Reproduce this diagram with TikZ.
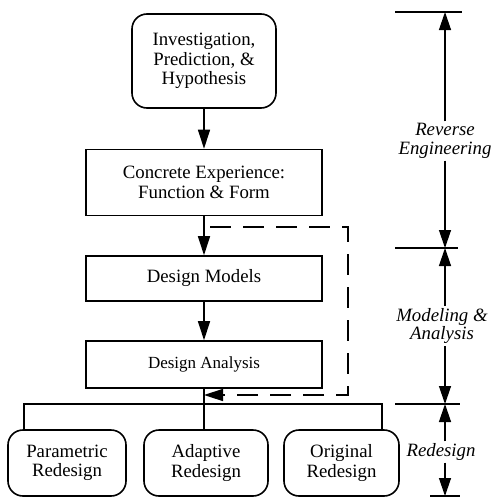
\documentclass[tikz,border=0pt]{standalone}
\usepackage{fontspec}
\setmainfont{Liberation Serif}
\usetikzlibrary{arrows.meta}
\tikzset{
  box/.style={draw, line width=1.6pt, align=center, inner sep=0pt,
    font=\fontsize{18.8}{19.5}\selectfont},
  rbox/.style={box, rounded corners=15pt},
  flow/.style={line width=1.5pt, -{Triangle[length=19pt,width=12pt]}},
  feedback/.style={flow, dash pattern=on 21pt off 12pt, dash phase=-6pt},
  link/.style={line width=1.5pt},
  tick/.style={line width=1.2pt},
  dimarrow/.style={line width=1.3pt, -{Triangle[length=18pt,width=12pt]}},
  phase/.style={font=\fontsize{18.8}{18.5}\selectfont\itshape, align=center, inner sep=2pt}
}
\begin{document}
\begin{tikzpicture}[x=1pt,y=-1pt]
        \useasboundingbox (0,0) rectangle (491,498);
        % main column
        \node[rbox, minimum width=144pt, minimum height=94pt] (inv) at (204,61) {Investigation,\\Prediction, \&\\Hypothesis};
        \node[box, minimum width=236pt, minimum height=66pt] (exp) at (204,182.5) {Concrete Experience:\\Function \& Form};
        \node[box, minimum width=236pt, minimum height=45pt] (models) at (204,278.5) {Design Models};
        \node[box, minimum width=236pt, minimum height=47pt, font=\fontsize{17}{19}\selectfont] (analysis) at (204,364.5) {Design Analysis};
        \draw[flow] (inv) -- (exp);
        \draw[flow] (exp) -- (models);
        \draw[flow] (models) -- (analysis);
        % feedback loop
        \coordinate (fbtop) at (204,227);
        \coordinate (fbend) at (204,395);
        \draw[feedback] (fbtop) -- (348,227) -- (348,395) -- (fbend);
        % redesign boxes
        \node[rbox, minimum width=118pt, minimum height=66pt] (param) at (67,463) {Parametric\\Redesign};
        \node[rbox, minimum width=124pt, minimum height=66pt] (adapt) at (206,463) {Adaptive\\Redesign};
        \node[rbox, minimum width=115pt, minimum height=66pt] (orig) at (341.5,463) {Original\\Redesign};
        \draw[link] (analysis.south) -- (analysis.south |- adapt.north);
        \draw[link] (24,0 |- param.north) -- (24,404) -- (382,404) -- (382,0 |- orig.north);
        % phase dimensions
        \draw[tick] (395,12) -- (462,12);
        \draw[tick] (395,248) -- (458,248);
        \draw[tick] (395,404) -- (460,404);
        \draw[tick] (430,496) -- (460,496);
        \coordinate (t1) at (445,12);
        \coordinate (t2) at (445,248);
        \coordinate (t3) at (445,404);
        \coordinate (t4) at (445,496);
        \node[phase] (revlab) at (445,141) {Reverse\\Engineering};
        \node[phase] (modlab) at (442,326) {Modeling \&\\Analysis};
        \node[phase] (redlab) at (441,452) {Redesign};
        \draw[dimarrow] (t1 |- revlab.north) -- (t1);
        \draw[dimarrow] (t1 |- revlab.south) -- (t2);
        \draw[dimarrow] (t2 |- modlab.north) -- (t2);
        \draw[dimarrow] (t2 |- modlab.south) -- (t3);
        \draw[dimarrow] (t3 |- redlab.north) -- (t3);
        \draw[dimarrow] (t3 |- redlab.south) -- (t4);
\end{tikzpicture}
\end{document}
